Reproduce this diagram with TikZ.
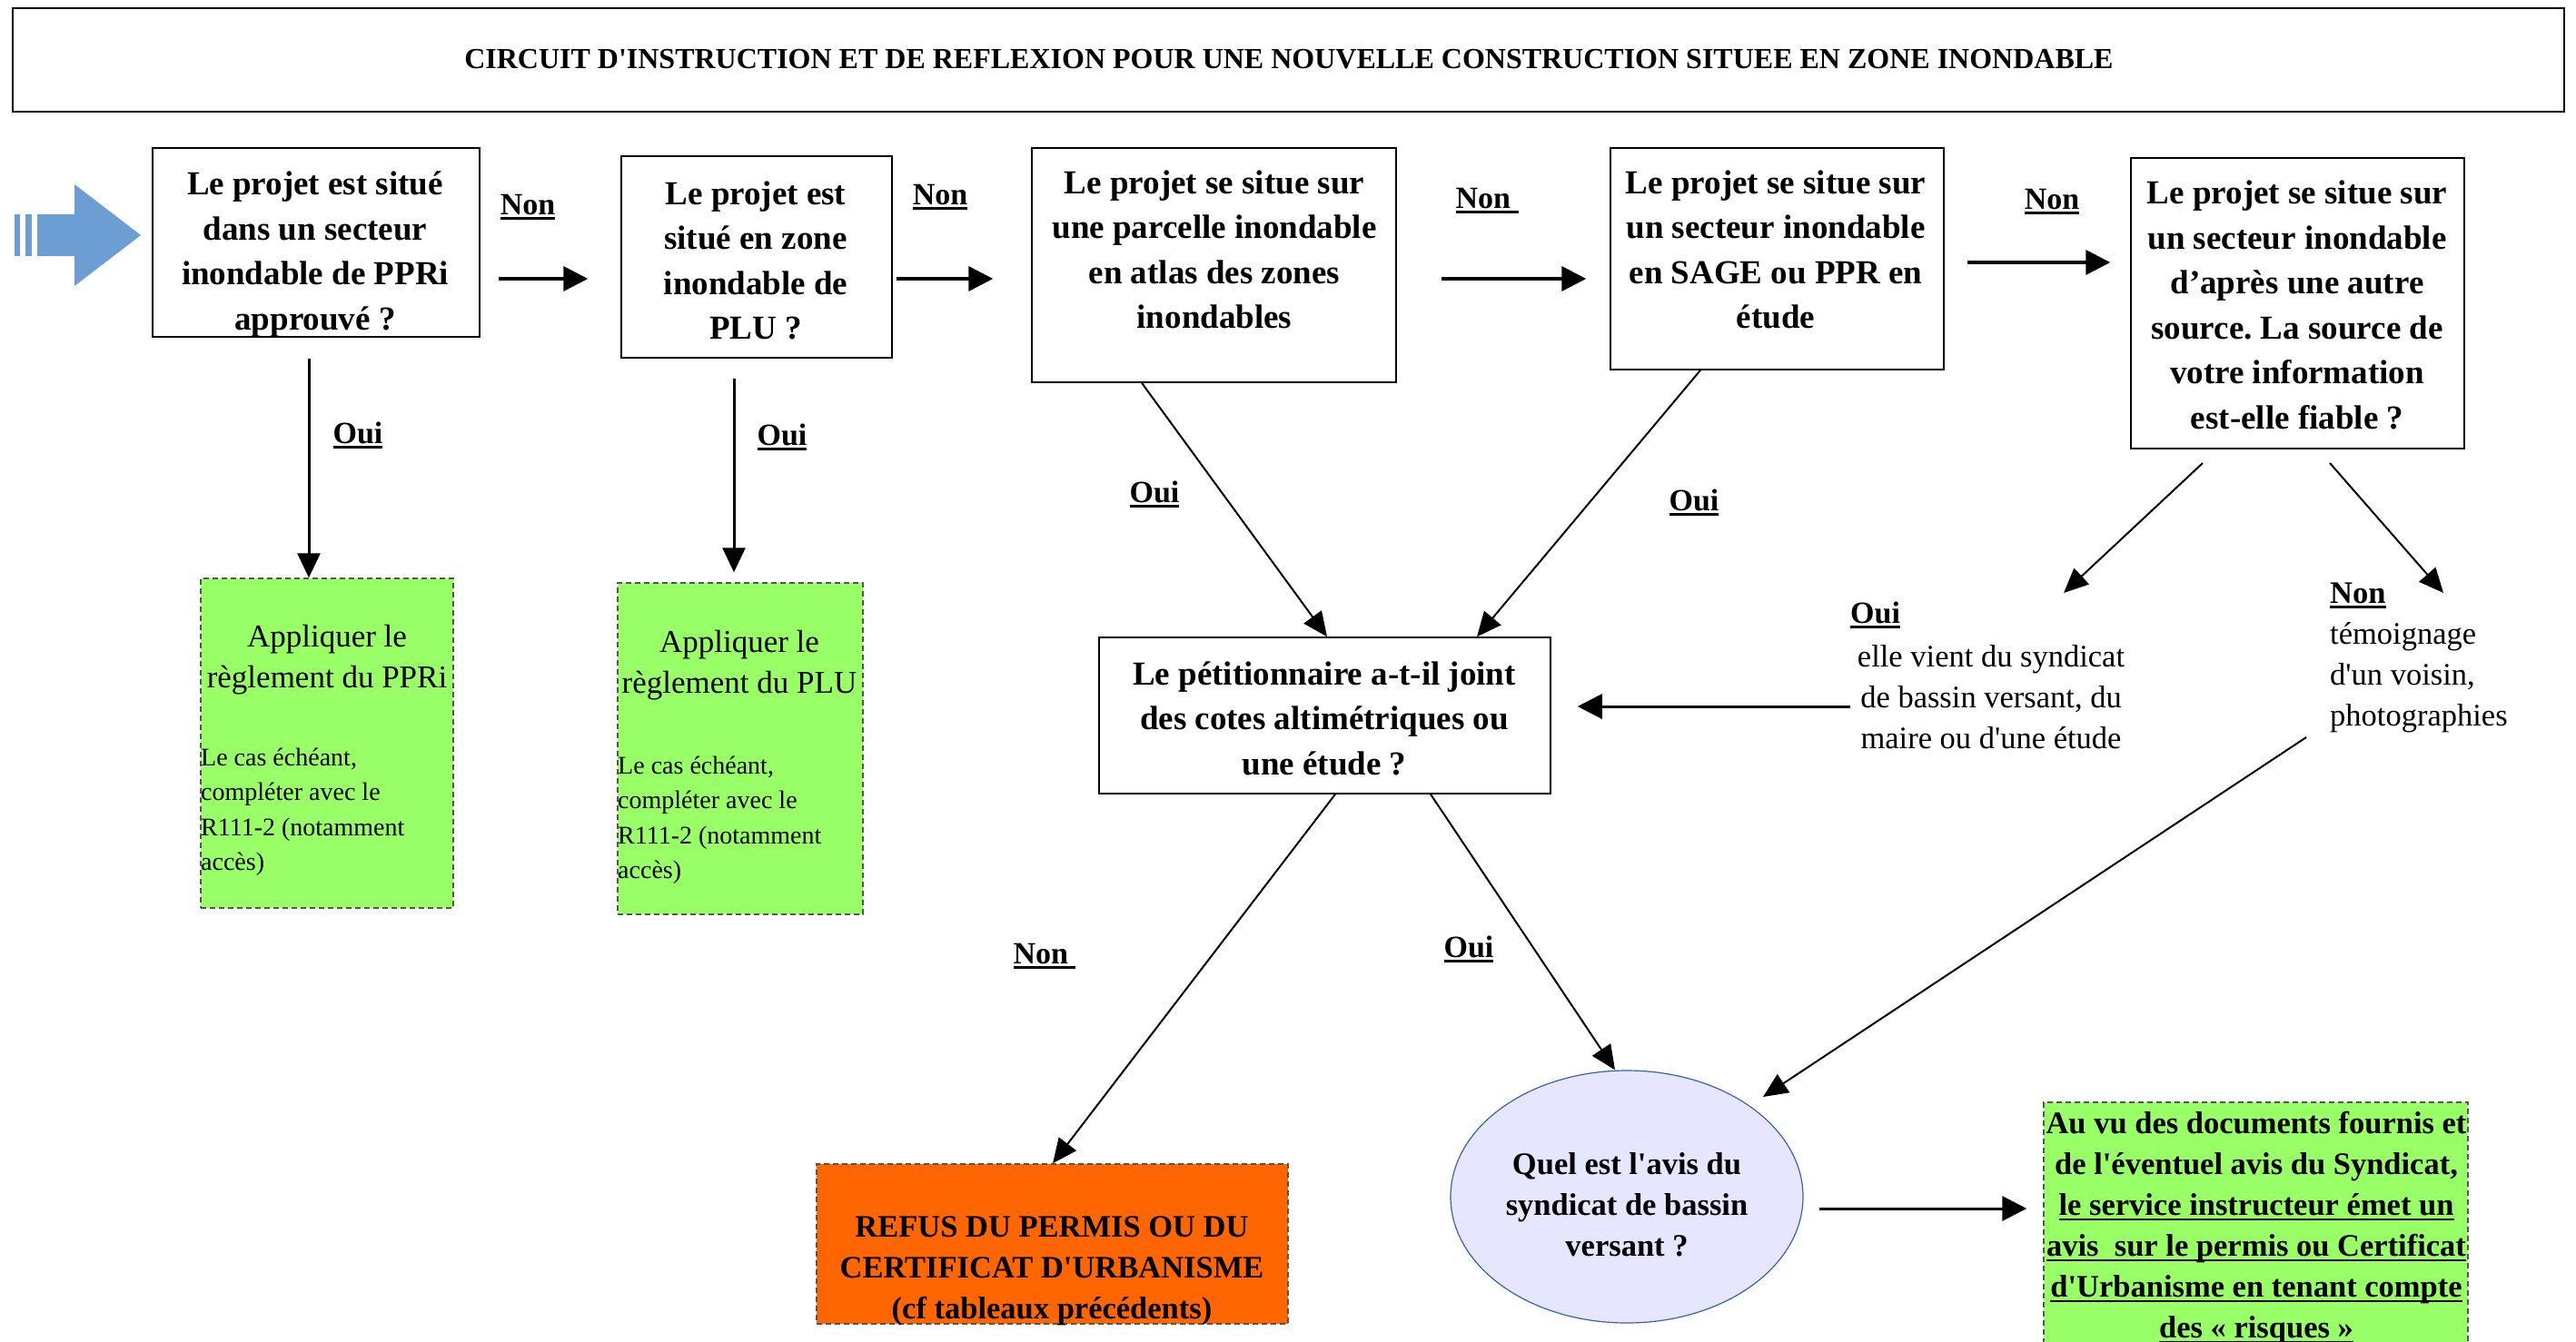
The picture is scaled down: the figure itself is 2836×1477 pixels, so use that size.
\documentclass[tikz,border=0pt]{standalone}
\usepackage{fontspec}
\setmainfont{Liberation Serif}[Ligatures=TeXOff]
\usetikzlibrary{arrows.meta,shapes.geometric}
\definecolor{lgreen}{HTML}{99FF66}
\definecolor{orng}{HTML}{FF6600}
\definecolor{lav}{HTML}{E6E6FF}
\definecolor{ellb}{HTML}{3465A4}
\definecolor{barrow}{HTML}{6D9ED3}
\definecolor{dgray}{HTML}{555555}
\frenchspacing
\newcommand\myul[1]{\setbox0\hbox{#1}\rlap{\rule[-5.5pt]{\wd0}{2.5pt}}\box0}
\tikzset{
  qbox/.style={draw=black, line width=1.5pt, rectangle, inner sep=0pt},
  qtext/.style={align=center, font=\fontsize{37}{49.5}\selectfont\bfseries, inner sep=0pt},
  gbox/.style={draw=dgray, dash pattern=on 6pt off 4pt, line width=1.5pt, rectangle, inner sep=0pt},
  gtitle/.style={align=center, font=\fontsize{35}{45}\selectfont, inner sep=0pt},
  gsmall/.style={align=left, font=\fontsize{28}{38.5}\selectfont, inner sep=0pt, anchor=west},
  btext/.style={align=center, font=\fontsize{34.5}{45}\selectfont\bfseries, inner sep=0pt},
  ntext/.style={font=\fontsize{34.5}{45}\selectfont, inner sep=0pt},
  lab/.style={font=\fontsize{34}{45}\selectfont\bfseries, inner sep=0pt},
  harr/.style={line width=3.5pt, -{Triangle[length=27pt,width=27pt]}},
  varr/.style={line width=3pt, -{Triangle[length=27pt,width=25pt]}},
  darr/.style={line width=2pt, -{Triangle[length=27pt,width=24pt]}}
}
\begin{document}
\begin{tikzpicture}[x=1pt,y=-1pt]
\useasboundingbox (0,0) rectangle (2836,1477);

% title
\node[qbox, minimum width=2809pt, minimum height=114pt] (title) at (1418.5,66) {};
\node[font=\fontsize{32}{38}\selectfont\bfseries, inner sep=0pt] (titlet) at (1419,65) {CIRCUIT D'INSTRUCTION ET DE REFLEXION POUR UNE NOUVELLE CONSTRUCTION SITUEE EN ZONE INONDABLE};

% entry arrow
\fill[barrow] (41,236) -- (82,236) -- (82,203) -- (155,259) -- (82,315) -- (82,282) -- (41,282) -- cycle;
\fill[barrow] (16,236) rectangle (22,282);
\fill[barrow] (28,236) rectangle (35,282);

% question boxes
\node[qbox, minimum width=360pt, minimum height=208pt] (b1) at (348,267) {};
\node[qtext] (b1t) at (347,280) {Le projet est situé\\dans un secteur\\inondable de PPRi\\approuvé ?};
\node[qbox, minimum width=298pt, minimum height=222pt] (b2) at (833,283) {};
\node[qtext] (b2t) at (832,287) {Le projet est\\situé en zone\\inondable de\\PLU ?};
\node[qbox, minimum width=401pt, minimum height=258pt] (b3) at (1336.5,292) {};
\node[qtext] (b3t) at (1337,275) {Le projet se situe sur\\une parcelle inondable\\en atlas des zones\\inondables};
\node[qbox, minimum width=367pt, minimum height=244pt] (b4) at (1956.5,285) {};
\node[qtext] (b4t) at (1955,275) {Le projet se situe sur\\un secteur inondable\\en SAGE ou PPR en\\étude};
\node[qbox, minimum width=367pt, minimum height=320pt] (b5) at (2529.5,334) {};
\node[qtext] (b5t) at (2529,336) {Le projet se situe sur\\un secteur inondable\\d’après une autre\\source. La source de\\votre information\\est-elle fiable ?};

% Non labels on top row
\node[lab] (n1) at (581,228) {\myul{Non}};
\node[lab] (n2) at (1035,217) {\myul{Non}};
\node[lab] (n3) at (1637,221) {\myul{Non\ }};
\node[lab] (n4) at (2259,222) {\myul{Non}};

\draw[harr, shorten <=20pt, shorten >=36pt] (b1.east |- 0,307) -- (b2.west |- 0,307);
\draw[harr, shorten <=4pt, shorten >=42pt] (b2.east |- 0,307) -- (b3.west |- 0,307);
\draw[harr, shorten <=49pt, shorten >=26pt] (b3.east |- 0,307) -- (b4.west |- 0,307);
\draw[harr, shorten <=25pt, shorten >=22pt] (b4.east |- 0,289) -- (b5.west |- 0,289);

% green boxes
\node[gbox, fill=lgreen, minimum width=278pt, minimum height=363pt] (g1) at (360,818.5) {};
\node[gtitle] (g1t) at (360,727) {Appliquer le\\règlement du PPRi};
\node[gsmall] (g1s) at (221,894) {Le cas échéant,\\compléter avec le\\R111-2 (notamment\\accès)};
\node[gbox, fill=lgreen, minimum width=270pt, minimum height=365pt] (g2) at (815,824.5) {};
\node[gtitle] (g2t) at (814,733) {Appliquer le\\règlement du PLU};
\node[gsmall] (g2s) at (680,903) {Le cas échéant,\\compléter avec le\\R111-2 (notamment\\accès)};

\draw[varr, shorten <=23pt] (b1.south -| 340,0) -- (g1.north -| 340,0);
\draw[varr, shorten <=22pt, shorten >=11pt] (b2.south -| 808,0) -- (g2.north -| 808,0);
\node[lab] (o1) at (394,479) {\myul{Oui}};
\node[lab] (o2) at (861,481) {\myul{Oui}};

% petitionnaire
\node[qbox, minimum width=497pt, minimum height=172pt] (pet) at (1458.5,788) {};
\node[qtext] (pett) at (1458,791) {Le pétitionnaire a-t-il joint\\des cotes altimétriques ou\\une étude ?};

\draw[darr] (b3.south -| 1257,0) -- (pet.north -| 1461,0);
\draw[darr] (b4.south -| 1872,0) -- (pet.north -| 1626,0);
\node[lab] (o3) at (1271,544) {\myul{Oui}};
\node[lab] (o4) at (1865,553) {\myul{Oui}};

% reliability answers
\node[lab, anchor=west] (o5) at (2037,677) {\myul{Oui}};
\node[ntext, align=center] (ouitxt) at (2192,768) {elle vient du syndicat\\de bassin versant, du\\maire ou d'une étude};
\node[ntext, align=left, anchor=west] (nontxt) at (2565,724) {\myul{\textbf{Non}}\\témoignage\\d'un voisin,\\photographies};

\coordinate (s5a) at (2425,510);
\coordinate (e5a) at (2272,653);
\coordinate (s5b) at (2565,510);
\coordinate (e5b) at (2690,653);
\draw[darr] (s5a) -- (e5a);
\draw[darr] (s5b) -- (e5b);
\draw[harr, line width=3pt, shorten >=29pt] (2037,778) -- (pet.east |- 0,778);

% bottom
\node[gbox, fill=orng, minimum width=519pt, minimum height=176pt] (refus) at (1158.5,1370) {};
\node[btext] (refust) at (1158,1400) {REFUS DU PERMIS OU DU\\CERTIFICAT D'URBANISME\\(cf tableaux précédents)};
\node[ellipse, fill=lav, draw=ellb, line width=1.2pt, minimum width=388pt, minimum height=278pt, inner sep=0pt] (ell) at (1791,1318) {};
\node[btext] (ellt) at (1791,1327) {Quel est l'avis du\\syndicat de bassin\\versant ?};
\node[gbox, fill=lgreen, minimum width=467pt, minimum height=286pt] (final) at (2483.5,1357) {};
\node[btext] (finalt) at (2484,1353) {Au vu des documents fournis et\\de l'éventuel avis du Syndicat,\\\myul{le service instructeur émet un}\\\myul{avis\ \ sur le permis ou Certificat}\\\myul{d'Urbanisme en tenant compte}\\\myul{des « risques »}};

\draw[darr] (pet.south -| 1470,0) -- (refus.north -| 1159,0);
\draw[darr] (pet.south -| 1575,0) -- (ell.north -| 1778,0);
\node[lab] (n5) at (1150,1053) {\myul{Non\ }};
\node[lab] (o6) at (1617,1045) {\myul{Oui}};

\coordinate (s6) at (2539,812);
\coordinate (e6) at (1941,1208);
\draw[darr] (s6) -- (e6);
\draw[harr, line width=3pt, shorten <=17pt, shorten >=18pt] (ell.east |- 0,1331) -- (final.west |- 0,1331);
\end{tikzpicture}
\end{document}
